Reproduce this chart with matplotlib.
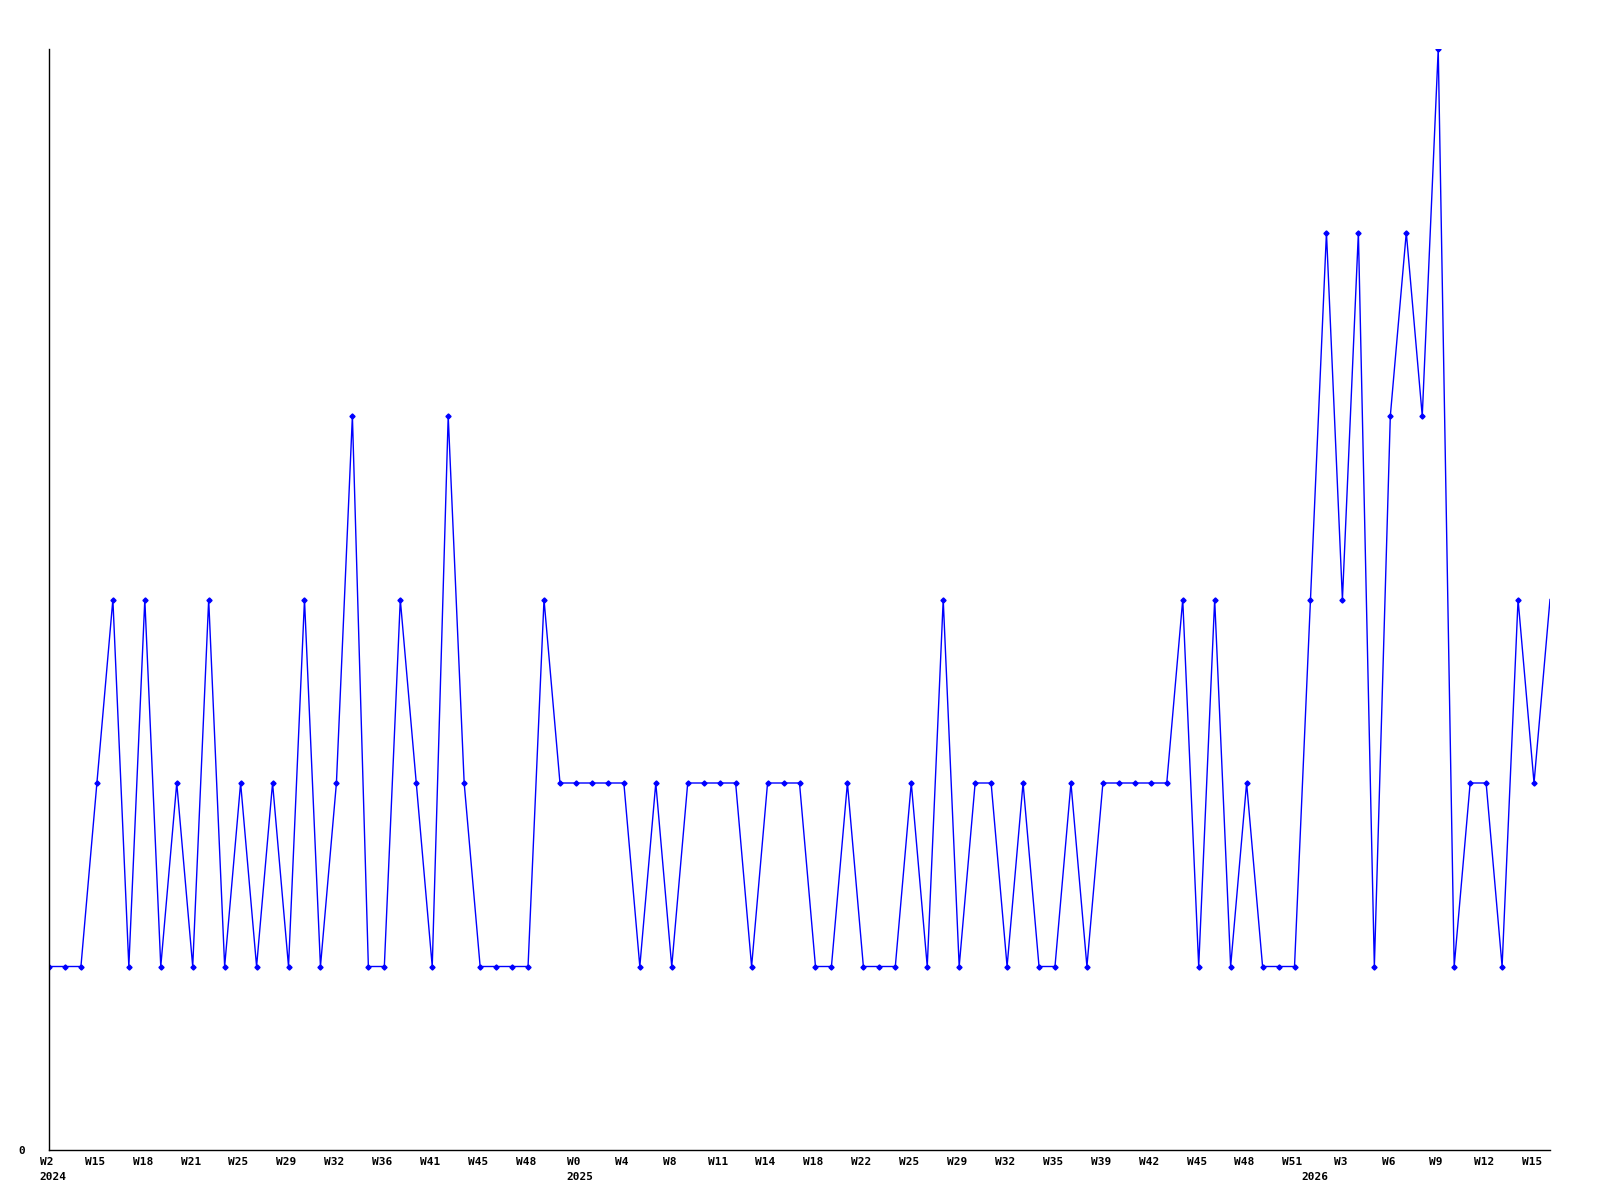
import matplotlib
matplotlib.use("Agg")
import matplotlib.pyplot as plt
import matplotlib.transforms as mtransforms
import numpy as np

# weekly counts, one per plotted point
counts = [1, 1, 1, 2, 3, 1, 3, 1, 2, 1,
          3, 1, 2, 1, 2, 1, 3, 1, 2, 4,
          1, 1, 3, 2, 1, 4, 2, 1, 1, 1,
          1, 3, 2, 2, 2, 2, 2, 1, 2, 1,
          2, 2, 2, 2, 1, 2, 2, 2, 1, 1,
          2, 1, 1, 1, 2, 1, 3, 1, 2, 2,
          1, 2, 1, 1, 2, 1, 2, 2, 2, 2,
          2, 3, 1, 3, 1, 2, 1, 1, 1, 3,
          5, 3, 5, 1, 4, 5, 4, 6, 1, 2,
          2, 1, 3, 2, 3]

# every third point gets a week label
week_labels = ["W2", "W15", "W18", "W21", "W25", "W29", "W32", "W36", "W41", "W45", "W48",
               "W0", "W4", "W8", "W11", "W14", "W18", "W22", "W25", "W29", "W32", "W35",
               "W39", "W42", "W45", "W48", "W51", "W3", "W6", "W9", "W12", "W15"]
year_labels = ["2024", "2025", "2026"]
year_start = [0, 33, 79]

x = np.arange(len(counts))

fig = plt.figure(figsize=(16, 12), dpi=100)
ax = fig.add_axes([49 / 1600, 50 / 1200, 1501 / 1600, 1101 / 1200])

# last point is drawn without a marker in the original
ax.plot(x, counts, color="#0000ff", linewidth=1.0, marker="D", markersize=2.6,
        markerfacecolor="#0000ff", markeredgecolor="#0000ff",
        markevery=list(range(len(counts) - 1)))

ax.set_xlim(0, len(counts) - 1)
ax.set_ylim(0, 6)

for s in ["top", "right"]:
    ax.spines[s].set_visible(False)
for s in ["left", "bottom"]:
    ax.spines[s].set_color("black")
    ax.spines[s].set_linewidth(1.0)

font = dict(family="DejaVu Sans Mono", weight="bold", size=8)

ax.xaxis.remove_overlapping_locs = False
ax.set_xticks(x[::3])
ax.set_xticklabels(week_labels, **font)
ax.set_xticks(year_start, minor=True)
ax.set_xticklabels(year_labels, minor=True, **font)
ax.tick_params(axis="x", which="major", length=0, pad=5)
ax.tick_params(axis="x", which="minor", length=0, pad=16)

# nudge labels a little, as in the original
shift_week = mtransforms.ScaledTranslation(-0.02, 0, fig.dpi_scale_trans)
shift_year = mtransforms.ScaledTranslation(0.04, 0, fig.dpi_scale_trans)
for lab in ax.get_xticklabels():
    lab.set_transform(lab.get_transform() + shift_week)
for lab in ax.get_xticklabels(minor=True):
    lab.set_transform(lab.get_transform() + shift_year)

ax.set_yticks([0])
ax.set_yticklabels(["0"], **font)
ax.tick_params(axis="y", length=0, pad=17)

fig.savefig("out.png", dpi=100)
